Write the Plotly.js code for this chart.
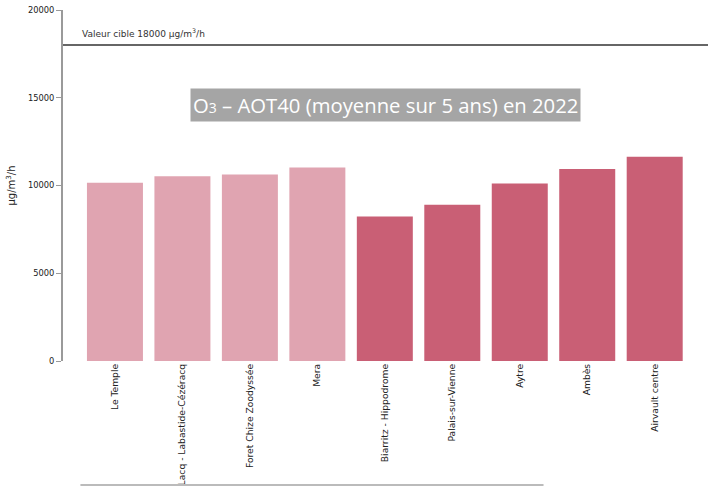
<!DOCTYPE html>
<html><head><meta charset="utf-8">
<script src="https://cdn.plot.ly/plotly-3.0.1.min.js"></script>
<style>html,body{margin:0;padding:0;background:#fff}#chart{width:716px;height:486px}</style>
</head><body><div id="chart"></div>
<script>
const stations = ["Le Temple","Lacq - Labastide-Cézéracq","Foret Chize Zoodyssée","Mera","Biarritz - Hippodrome","Palais-sur-Vienne","Aytre","Ambès","Airvault centre"];
const values = [10160,10520,10620,11020,8230,8910,10120,10940,11640];
const groups = ["light","light","light","light","dark","dark","dark","dark","dark"];
const targetValue = 18000;
const yTicks = [0,5000,10000,15000,20000];

const colorMap = {light:"#e0a4b1", dark:"#c95f75"};
const smallFont = "DejaVu Sans, Verdana, sans-serif";

const trace = {
  type:"bar", x: stations.map((s,i)=>i), y: values,
  marker:{color: groups.map(g=>colorMap[g]), line:{width:0}},
  hoverinfo:"skip"
};

const layout = {
  width:716, height:486,
  margin:{l:63, r:8, t:10, b:125},
  paper_bgcolor:"#fff", plot_bgcolor:"#fff",
  showlegend:false,
  bargap:0.17,
  font:{family:smallFont, color:"#333"},
  xaxis:{range:[-0.77,8.79], tickmode:"array", tickvals: stations.map((s,i)=>i), ticktext: stations,
    tickangle:-90, showgrid:false, zeroline:false, showline:false, ticks:"", tickfont:{family:smallFont, size:9.2, color:"#222"}},
  yaxis:{range:[0,20000], tickmode:"array", tickvals:yTicks, ticktext:yTicks.map(String),
    showgrid:false, zeroline:false, showline:true, linecolor:"#9a9a9a", linewidth:2,
    ticks:"outside", ticklen:5, tickcolor:"#9a9a9a", tickfont:{family:smallFont, size:8.3, color:"#222"},
    title:{text:"µg/m<sup>3</sup>/h", font:{family:smallFont, size:10, color:"#222"}, standoff:10}},
  shapes:[
    {type:"line", xref:"paper", yref:"y", x0:0, x1:1, y0:targetValue, y1:targetValue, line:{color:"#666", width:2}},
    {type:"line", xref:"paper", yref:"paper", x0:0.027, x1:0.745, y0:-0.3535, y1:-0.3535, line:{color:"#bbb", width:2}}
  ],
  annotations:[
    {xref:"paper", yref:"y", x:0.027, y:targetValue, yshift:4, xanchor:"left", yanchor:"bottom", showarrow:false,
      text:"Valeur cible 18000 µg/m<sup>3</sup>/h", font:{family:smallFont, size:9, color:"#333"}},
    {xref:"paper", yref:"paper", x:0.5, y:0.73, xanchor:"center", yanchor:"middle", showarrow:false,
      text:"O<span style='font-size:14px'>3</span> – AOT40 (moyenne sur 5 ans) en 2022", font:{family:"Open Sans, sans-serif", size:20.3, color:"#fff"},
      bgcolor:"#a5a5a5", borderpad:2}
  ]
};
Plotly.newPlot("chart",[trace],layout,{displayModeBar:false, staticPlot:true});
</script></body></html>
